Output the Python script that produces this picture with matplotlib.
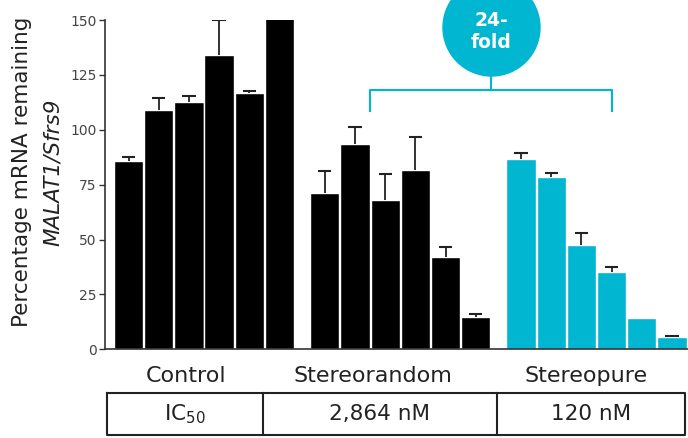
import matplotlib
matplotlib.use("Agg")
import matplotlib.pyplot as plt
from matplotlib.patches import Circle
import numpy as np

# data
groups = ["Control", "Stereorandom", "Stereopure"]
ic50_labels = ["2,864 nM", "120 nM"]

control_vals = [86, 108.8, 112.8, 134.2, 116.7, 155]
control_err = [1.5, 5.5, 2.4, 15.6, 0.8, 0]

random_vals = [71.1, 93.6, 68.1, 81.8, 42.0, 14.6]
random_err = [10.3, 7.6, 11.8, 15.1, 4.8, 1.5]

pure_vals = [86.8, 78.4, 47.6, 35.4, 14.1, 5.7]
pure_err = [2.8, 2.1, 5.6, 2.3, 0, 0.4]

yticks = [0, 25, 50, 75, 100, 125, 150]

cyan = "#00B6D0"

# bar positions: six per group, gap of half a bar between groups
x_control = np.arange(6)
x_random = np.arange(6) + 6.5
x_pure = np.arange(6) + 13

W, H = 688, 438
fig = plt.figure(figsize=(W / 100, H / 100), dpi=100)

# main axes placed in pixel terms
left, right, top, bottom = 105, 688, 20, 349.3
ax = fig.add_axes([left / W, (H - bottom) / H, (right - left) / W, (bottom - top) / H])

for xs, vals, errs, col in [(x_control, control_vals, control_err, "black"),
                            (x_random, random_vals, random_err, "black"),
                            (x_pure, pure_vals, pure_err, cyan)]:
    ax.bar(xs, vals, width=0.97, color=col, edgecolor="white", linewidth=1.0)
    # upper error bars only
    xs = np.asarray(xs, dtype=float)
    vals = np.asarray(vals)
    errs = np.asarray(errs)
    m = errs > 0
    ax.vlines(xs[m], vals[m], vals[m] + errs[m], color="#222222", lw=1.3, zorder=3)
    ax.hlines(vals[m] + errs[m], xs[m] - 0.22, xs[m] + 0.22, color="#222222", lw=1.5, zorder=3)

ax.set_xlim(-0.78, 18.53)
ax.set_ylim(0, 150)
ax.set_yticks(yticks)
ax.set_xticks([])
ax.tick_params(axis="y", length=4, width=1, color="#333333", labelsize=10, labelcolor="#444444", pad=2)
for s in ["top", "right"]:
    ax.spines[s].set_visible(False)
ax.spines["left"].set_color("#333333")
ax.spines["bottom"].set_color("#333333")
ax.spines["left"].set_linewidth(1.2)
ax.spines["bottom"].set_linewidth(1.2)

# bracket over stereorandom/stereopure, in data coords
bx0, bx1, bxm = 8.0, 16.0, 12.0
y_top, y_bot, y_stem = 118.2, 108.5, 124.6
ax.plot([bx0, bx0, bx1, bx1], [y_bot, y_top, y_top, y_bot], color=cyan, lw=1.5,
        clip_on=False, solid_joinstyle="round")
ax.plot([bxm, bxm], [y_top, y_stem], color=cyan, lw=1.5, clip_on=False)

# overlay in pixel coords for circle, labels and table
ov = fig.add_axes([0, 0, 1, 1])
ov.set_xlim(0, W)
ov.set_ylim(H, 0)
ov.axis("off")
ov.patch.set_alpha(0)

ov.add_patch(Circle((491.5, 27.5), 48.5, color=cyan, zorder=5))
ov.text(491.5, 20.5, "24-", color="white", fontsize=13.5, fontweight="bold", ha="center", va="center", zorder=6)
ov.text(491.5, 42.5, "fold", color="white", fontsize=13.5, fontweight="bold", ha="center", va="center", zorder=6)

# y label, two lines
ov.text(22, 171.5, "Percentage mRNA remaining", rotation=90, fontsize=15.5, color="#222222",
        ha="center", va="center")
ov.text(53, 172.5, "MALAT1/Sfrs9", rotation=90, fontsize=15.5, style="italic", color="#222222",
        ha="center", va="center")

# group names
for gx, g in zip([186.5, 372.5, 586.5], groups):
    ov.text(gx, 376, g, fontsize=16, color="#222222", ha="center", va="center")

# IC50 table
tl, tr, tt, tb = 107.3, 685, 392.7, 435
d1, d2 = 262.7, 496.5
ov.plot([tl, tr, tr, tl, tl], [tt, tt, tb, tb, tt], color="#222222", lw=1.5)
ov.plot([d1, d1], [tt, tb], color="#222222", lw=1.5)
ov.plot([d2, d2], [tt, tb], color="#222222", lw=1.5)
ov.text((tl + d1) / 2, 414, r"IC$_{\mathregular{50}}$", fontsize=15.5, color="#222222", ha="center", va="center")
ov.text((d1 + d2) / 2, 414, ic50_labels[0], fontsize=15.5, color="#222222", ha="center", va="center")
ov.text((d2 + tr) / 2, 414, ic50_labels[1], fontsize=15.5, color="#222222", ha="center", va="center")

fig.savefig("out.png", dpi=100)
